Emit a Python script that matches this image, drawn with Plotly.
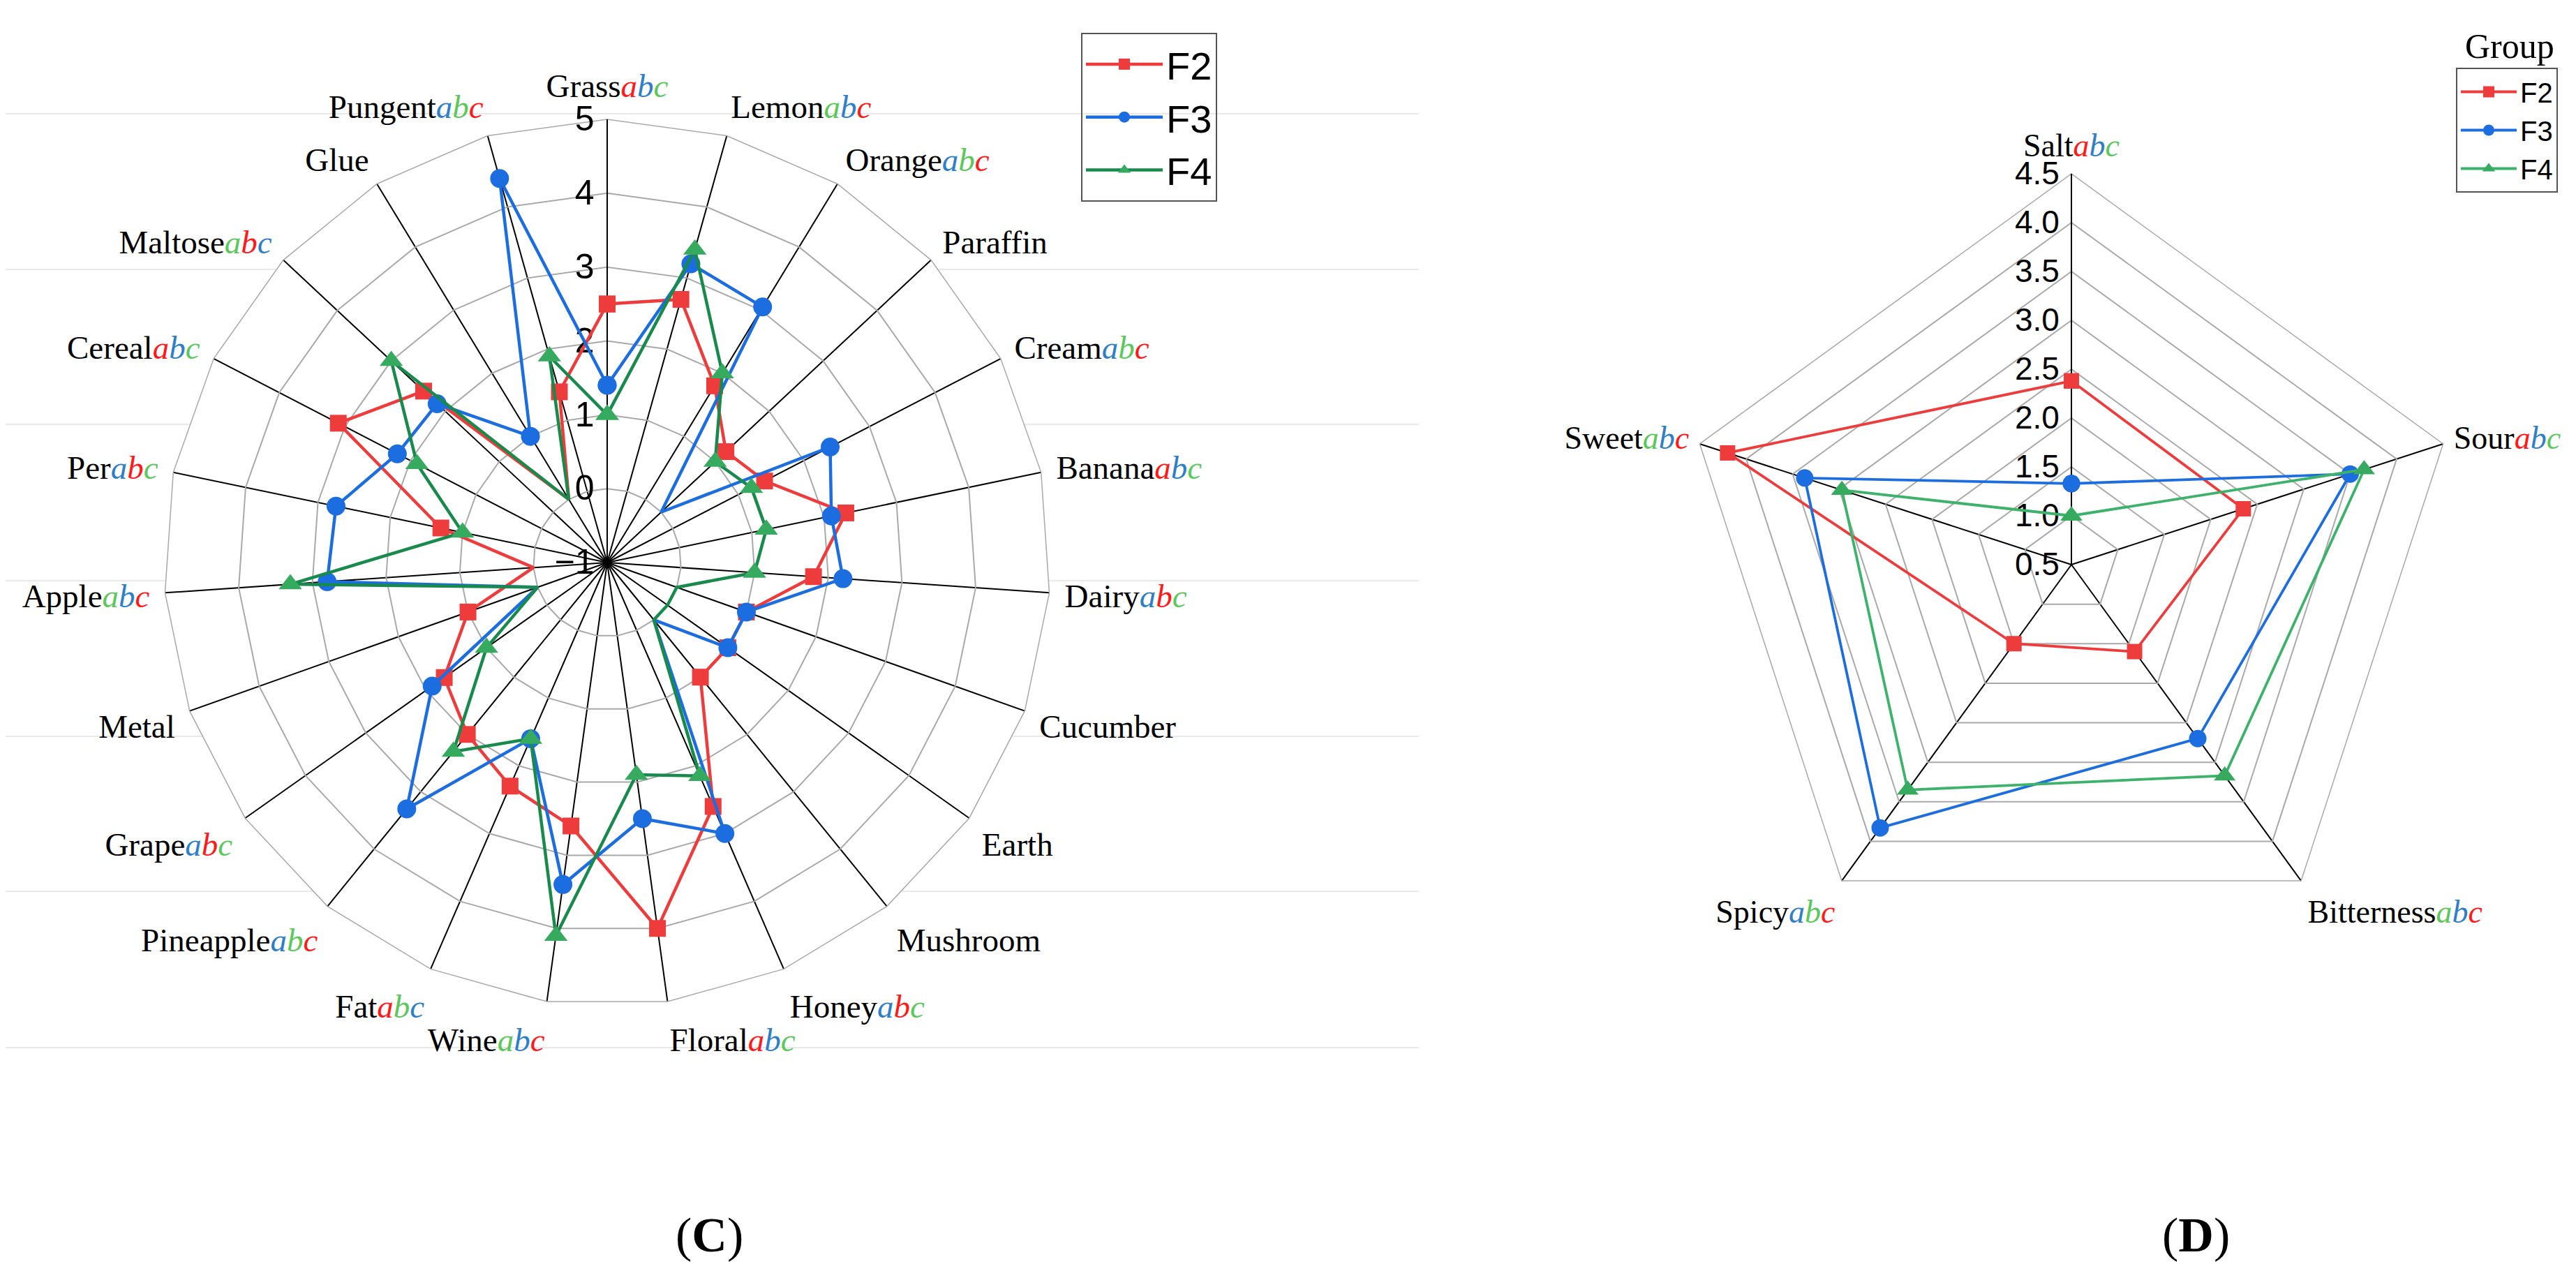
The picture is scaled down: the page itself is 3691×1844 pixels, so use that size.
import plotly.graph_objects as go

# ---------------- data: panel C (aroma attributes) ----------------
c_categories = ["Grass", "Lemon", "Orange", "Paraffin", "Cream", "Banana", "Dairy",
                "Cucumber", "Earth", "Mushroom", "Honey", "Floral", "Wine", "Fat",
                "Pineapple", "Grape", "Metal", "Apple", "Per", "Cereal", "Maltose",
                "Glue", "Pungent"]
# colours of the superscript letters a, b, c (r = red, b = blue, g = green)
c_letters = ["rbg", "gbr", "bgr", "", "bgr", "rbg", "brg", "", "", "", "brg", "rbg",
             "gbr", "rgb", "bgr", "brg", "", "gbr", "brg", "rbg", "grb", "", "bgr"]
c_F2 = [2.5, 2.7, 1.8, 1.2, 1.4, 2.3, 1.8, 1.0, 1.0, 1.0, 2.6, 4.0, 2.6, 2.3, 2.0, 1.7,
        1.0, 0.0, 1.3, 3.1, 2.4, 0.0, 1.4]
c_F3 = [1.4, 3.2, 3.05, 0.0, 2.4, 2.1, 2.2, 1.0, 1.0, 0.0, 3.0, 2.5, 3.4, 1.6, 3.3, 1.9,
        0.0, 2.8, 2.75, 2.2, 2.15, 1.0, 4.4]
c_F4 = [1.0, 3.4, 2.0, 1.0, 1.2, 1.2, 1.0, 0.0, 0.0, 0.0, 2.15, 1.9, 4.1, 1.6, 2.3, 1.0,
        0.0, 3.3, 1.0, 1.9, 3.0, 0.0, 1.9]
c_ticks = [-1, 0, 1, 2, 3, 4, 5]

# ---------------- data: panel D (taste attributes) ----------------
d_categories = ["Salt", "Sour", "Bitterness", "Spicy", "Sweet"]
d_letters = ["rbg", "rbg", "gbr", "bgr", "gbr"]
d_F2 = [2.38, 2.35, 1.6, 1.5, 4.2]
d_F3 = [1.33, 3.5, 2.7, 3.83, 3.37]
d_F4 = [1.0, 3.65, 3.17, 3.35, 2.97]
d_ticks = [0.5, 1.0, 1.5, 2.0, 2.5, 3.0, 3.5, 4.0, 4.5]

groups = ["F2", "F3", "F4"]

# ---------------- styling ----------------
W, H = 3691, 1844
LETTER_COL = {"r": "#ff1a1a", "b": "#2f7fc8", "g": "#5cc85c"}
LINE_COL = {"F2": "#ee3b3b", "F3": "#1c6ddf", "F4": "#178a4c"}
MARK_COL = {"F2": "#ee3b3b", "F3": "#1c6ddf", "F4": "#36ab5f"}
SYMBOL = {"F2": "square", "F3": "circle", "F4": "triangle-up"}
MSIZE = {"F2": 24, "F3": 27, "F4": 29}
SERIF = "Liberation Serif, Times New Roman, serif"
SANS = "Liberation Sans Narrow, Arial Narrow, Liberation Sans, Arial, sans-serif"


def make_label(name, letters):
    s = name
    for ch, code in zip("abc", letters):
        s += '<span style="color:%s"><i>%s</i></span>' % (LETTER_COL[code], ch)
    return s


def closed(seq):
    return list(seq) + [seq[0]]


fig = go.Figure()

c_series = {"F2": c_F2, "F3": c_F3, "F4": c_F4}
d_series = {"F2": d_F2, "F3": d_F3, "F4": d_F4}

for g in groups:
    fig.add_trace(go.Scatterpolar(
        r=closed(c_series[g]), theta=closed(c_categories), name=g, subplot="polar",
        mode="lines+markers", legend="legend",
        line=dict(color=LINE_COL[g], width=4.5),
        marker=dict(symbol=SYMBOL[g], size=MSIZE[g], color=MARK_COL[g], line=dict(width=0)),
    ))
for g in groups:
    fig.add_trace(go.Scatterpolar(
        r=closed(d_series[g]), theta=closed(d_categories), name=g, subplot="polar2",
        mode="lines+markers", legend="legend2",
        line=dict(color=LINE_COL[g] if g != "F4" else "#3cb26a", width=3.8),
        marker=dict(symbol=SYMBOL[g], size=MSIZE[g] - 2, color=MARK_COL[g], line=dict(width=0)),
    ))


def dom(cx, cy, R):
    return dict(x=[(cx - R) / W, (cx + R) / W], y=[(H - cy - R) / H, (H - cy + R) / H])


GRID_GRAY = "#a9a9a9"

fig.update_layout(
    width=W, height=H, margin=dict(l=0, r=0, t=0, b=0),
    paper_bgcolor="white", plot_bgcolor="white",
    polar=dict(
        domain=dom(862, 798, 635), bgcolor="white", gridshape="linear",
        radialaxis=dict(range=[c_ticks[0], c_ticks[-1]], tickmode="array", tickvals=c_ticks,
                        angle=90, side="counterclockwise", tickangle=90,
                        showline=True, linecolor="black", linewidth=2,
                        gridcolor=GRID_GRAY, gridwidth=1.5, ticks="",
                        tickfont=dict(family=SANS, size=50, color="black"),
                        layer="below traces"),
        angularaxis=dict(type="category", categoryarray=c_categories, rotation=90,
                         direction="clockwise", tickmode="array", tickvals=c_categories,
                         ticktext=[make_label(n, l) for n, l in zip(c_categories, c_letters)],
                         gridcolor="black", gridwidth=2, showline=True,
                         linecolor=GRID_GRAY, linewidth=1.5,
                         ticks="outside", ticklen=12, tickcolor="rgba(0,0,0,0)",
                         tickfont=dict(family=SERIF, size=47, color="black"),
                         layer="below traces"),
    ),
    polar2=dict(
        domain=dom(2960, 801, 560), bgcolor="white", gridshape="linear",
        radialaxis=dict(range=[d_ticks[0], d_ticks[-1]], tickmode="array", tickvals=d_ticks,
                        tickformat=".1f", angle=90, side="counterclockwise", tickangle=90,
                        showline=True, linecolor="black", linewidth=2,
                        gridcolor=GRID_GRAY, gridwidth=1.5, ticks="",
                        tickfont=dict(family=SANS, size=46, color="black"),
                        layer="below traces"),
        angularaxis=dict(type="category", categoryarray=d_categories, rotation=90,
                         direction="clockwise", tickmode="array", tickvals=d_categories,
                         ticktext=[make_label(n, l) for n, l in zip(d_categories, d_letters)],
                         gridcolor="black", gridwidth=2, showline=True,
                         linecolor=GRID_GRAY, linewidth=1.5,
                         ticks="outside", ticklen=6, tickcolor="rgba(0,0,0,0)",
                         tickfont=dict(family=SERIF, size=46, color="black"),
                         layer="below traces"),
    ),
    legend=dict(x=1541 / W, y=1 - 39 / H, xanchor="left", yanchor="top",
                bgcolor="rgba(0,0,0,0)", bordercolor="#555555", borderwidth=2,
                font=dict(family=SANS, size=56, color="black"), itemwidth=110,
                tracegroupgap=0),
    legend2=dict(x=3511 / W, y=1 - 89 / H, xanchor="left", yanchor="top",
                 bgcolor="rgba(0,0,0,0)", bordercolor="#555555", borderwidth=2,
                 font=dict(family=SANS, size=40, color="black"), itemwidth=80,
                 tracegroupgap=0),
    showlegend=True,
)

# faint horizontal background rules behind panel C
for yy in [155, 378, 600, 824, 1047, 1269, 1493]:
    fig.add_shape(type="line", xref="paper", yref="paper", x0=0, x1=2025 / W,
                  y0=1 - yy / H, y1=1 - yy / H, line=dict(color="#e9e9e9", width=2),
                  layer="below")

fig.add_annotation(text="(<b>C</b>)", x=1008 / W, y=1 - 1761 / H, xref="paper", yref="paper",
                   xanchor="center", yanchor="middle", showarrow=False,
                   font=dict(family=SERIF, size=70, color="black"))
fig.add_annotation(text="(<b>D</b>)", x=3138 / W, y=1 - 1761 / H, xref="paper", yref="paper",
                   xanchor="center", yanchor="middle", showarrow=False,
                   font=dict(family=SERIF, size=70, color="black"))
fig.add_annotation(text="Group", x=3588 / W, y=1 - 58 / H, xref="paper", yref="paper",
                   xanchor="center", yanchor="middle", showarrow=False,
                   font=dict(family=SERIF, size=50, color="black"))

fig.write_html("out.html")
